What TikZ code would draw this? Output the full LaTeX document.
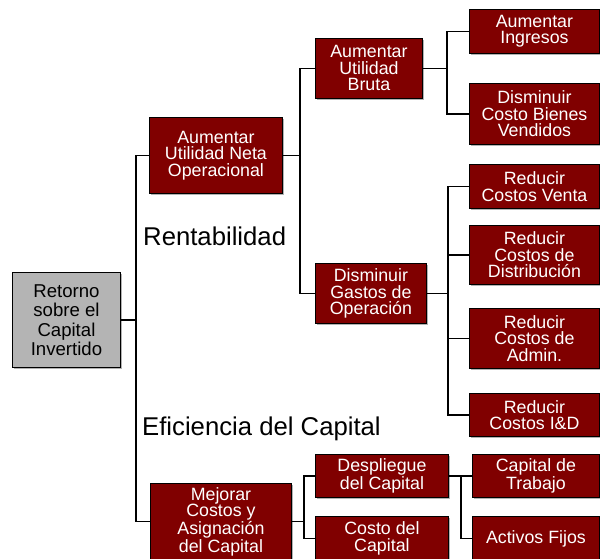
\documentclass[tikz,border=0pt]{standalone}
\usepackage{fontspec}
\setmainfont{Liberation Sans}
\usetikzlibrary{shadows}
\definecolor{boxred}{RGB}{128,0,0}
\definecolor{rootgray}{RGB}{180,180,180}
\tikzset{
  redbox/.style={draw=black, line width=0.9pt, fill=boxred, text=white, align=center,
    inner sep=0pt, anchor=north west,
    font=\fontsize{17.8pt}{16.5pt}\selectfont,
    drop shadow={shadow xshift=1.6pt, shadow yshift=-1.6pt, fill=gray!60, opacity=1}},
  rootbox/.style={draw=black, line width=0.9pt, fill=rootgray, text=black, align=center,
    inner sep=0pt, anchor=north west,
    font=\fontsize{18.6pt}{19.5pt}\selectfont,
    drop shadow={shadow xshift=1.6pt, shadow yshift=-1.6pt, fill=gray!60, opacity=1}},
  conn/.style={draw=black, line width=1.3pt},
  biglabel/.style={anchor=base west, inner sep=0pt, font=\fontsize{25.7pt}{28pt}\selectfont}
}
\newcommand{\bx}[7]{% style, name, x1, y1, x2, y2, text
  \node[#1, minimum width={(#5-#3)*1pt}, minimum height={(#6-#4)*1pt}] (#2) at (#3,#4) {#7};}
\begin{document}
\begin{tikzpicture}[x=1pt,y=-1pt]
\useasboundingbox (0,0) rectangle (600,558);
\clip (0,0) rectangle (600,558);

% nodes
\bx{rootbox}{root}{12}{272}{120}{367}{Retorno\\sobre el\\Capital\\Invertido}
\bx{redbox}{n1}{149}{117}{282}{193}{Aumentar\\Utilidad Neta\\Operacional}
\bx{redbox}{n2}{315}{38}{422}{98}{Aumentar\\Utilidad\\Bruta}
\bx{redbox}{n3}{469}{9}{599}{53}{Aumentar\\Ingresos}
\bx{redbox}{n4}{469}{83}{599}{144}{Disminuir\\Costo Bienes\\Vendidos}
\bx{redbox}{n5}{315}{263}{426}{323}{Disminuir\\Gastos de\\Operación}
\bx{redbox}{n6}{469}{164}{599}{208}{Reducir\\Costos Venta}
\bx{redbox}{n7}{469}{225}{599}{284}{Reducir\\Costos de\\Distribución}
\bx{redbox}{n8}{469}{308}{599}{368}{Reducir\\Costos de\\Admin.}
\bx{redbox}{n9}{469}{393}{599}{436}{Reducir\\Costos I\&D}
\bx{redbox}{n10}{150}{483}{291}{559}{Mejorar\\Costos y\\Asignación\\del Capital}
\bx{redbox}{n11}{315}{454}{448}{497}{Despliegue\\del Capital}
\bx{redbox}{n12}{315}{516}{448}{560}{Costo del\\Capital}
\bx{redbox}{n13}{472}{454}{599}{497}{Capital de\\Trabajo}
\bx{redbox}{n14}{472}{516}{599}{560}{Activos Fijos}

% labels
\node[biglabel] (lrent) at (143,245) {Rentabilidad};
\node[biglabel] (lefic) at (142,435) {Eficiencia del Capital};

% connectors
\draw[conn] (root.east) -- ++(15,0) coordinate (j0);
\draw[conn] (j0) |- (n1.west);
\draw[conn] (j0) |- (n10.west);

\draw[conn] (n1.east) -- ++(17,0) coordinate (j1);
\draw[conn] (j1) |- (n2.west);
\draw[conn] (j1) |- (n5.west);

\draw[conn] (n2.east) -- ++(24,0) coordinate (j2);
\draw[conn] (j2) |- (n3.west);
\draw[conn] (j2) |- (n4.west);

\draw[conn] (n5.east) -- ++(21,0) coordinate (j5);
\draw[conn] (j5) |- (n6.west);
\draw[conn] (j5) |- (n7.west);
\draw[conn] (j5) |- (n8.west);
\draw[conn] (j5) |- (n9.west);

\draw[conn] (n10.east) -- ++(12,0) coordinate (j10);
\draw[conn] (j10) |- (n11.west);
\draw[conn] (j10) |- (n12.west);

\draw[conn] (n11.east) -- ++(12,0) coordinate (j11);
\draw[conn] (j11) |- (n13.west);
\draw[conn] (j11) |- (n14.west);
\end{tikzpicture}
\end{document}
